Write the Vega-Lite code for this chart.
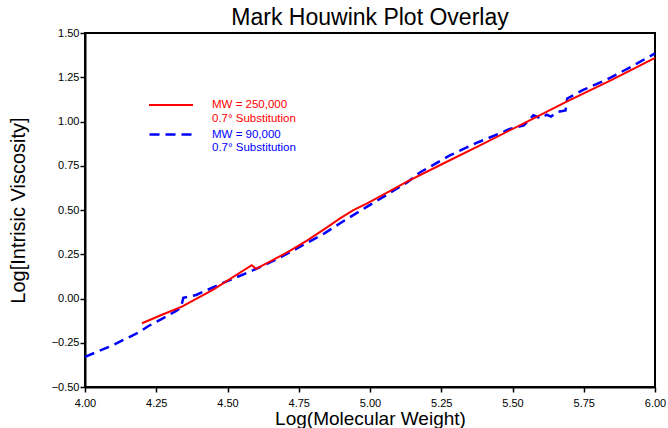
{
  "$schema": "https://vega.github.io/schema/vega-lite/v6.json",
  "autosize": {"type": "none"},
  "width": 570,
  "height": 354,
  "padding": {"left": 85, "top": 33, "right": 13, "bottom": 41},
  "background": "white",
  "config": {
    "font": "Liberation Sans",
    "view": {"stroke": "black", "strokeWidth": 2},
    "axis": {"grid": false, "domainColor": "black", "domainWidth": 2, "tickColor": "black", "tickWidth": 1.5, "tickSize": 5, "labelColor": "black", "labelFontSize": 11, "titleColor": "black", "titleFontSize": 19, "titleFontWeight": "normal", "labelFont": "Liberation Sans", "titleFont": "Liberation Sans"},
    "legend": {"labelFont": "Liberation Sans"}
  },
  "title": {"text": "Mark Houwink Plot Overlay", "fontSize": 23, "fontWeight": "normal", "font": "Liberation Sans", "color": "black", "anchor": "middle", "offset": -3},
  "datasets": {
    "curves": [
      {"series": "MW = 90,000", "logmw": 4.00, "logiv": -0.33},
      {"series": "MW = 90,000", "logmw": 4.10, "logiv": -0.262},
      {"series": "MW = 90,000", "logmw": 4.19, "logiv": -0.19},
      {"series": "MW = 90,000", "logmw": 4.22, "logiv": -0.158},
      {"series": "MW = 90,000", "logmw": 4.27, "logiv": -0.115},
      {"series": "MW = 90,000", "logmw": 4.32, "logiv": -0.07},
      {"series": "MW = 90,000", "logmw": 4.337, "logiv": -0.05},
      {"series": "MW = 90,000", "logmw": 4.345, "logiv": 0.004},
      {"series": "MW = 90,000", "logmw": 4.39, "logiv": 0.02},
      {"series": "MW = 90,000", "logmw": 4.48, "logiv": 0.085},
      {"series": "MW = 90,000", "logmw": 4.59, "logiv": 0.16},
      {"series": "MW = 90,000", "logmw": 4.66, "logiv": 0.212},
      {"series": "MW = 90,000", "logmw": 4.72, "logiv": 0.262},
      {"series": "MW = 90,000", "logmw": 4.78, "logiv": 0.315},
      {"series": "MW = 90,000", "logmw": 4.84, "logiv": 0.368},
      {"series": "MW = 90,000", "logmw": 4.895, "logiv": 0.425},
      {"series": "MW = 90,000", "logmw": 4.99, "logiv": 0.519},
      {"series": "MW = 90,000", "logmw": 5.13, "logiv": 0.655},
      {"series": "MW = 90,000", "logmw": 5.175, "logiv": 0.712},
      {"series": "MW = 90,000", "logmw": 5.28, "logiv": 0.808},
      {"series": "MW = 90,000", "logmw": 5.374, "logiv": 0.879},
      {"series": "MW = 90,000", "logmw": 5.456, "logiv": 0.933},
      {"series": "MW = 90,000", "logmw": 5.49, "logiv": 0.958},
      {"series": "MW = 90,000", "logmw": 5.54, "logiv": 0.978},
      {"series": "MW = 90,000", "logmw": 5.573, "logiv": 1.035},
      {"series": "MW = 90,000", "logmw": 5.60, "logiv": 1.018},
      {"series": "MW = 90,000", "logmw": 5.62, "logiv": 1.038},
      {"series": "MW = 90,000", "logmw": 5.635, "logiv": 1.028},
      {"series": "MW = 90,000", "logmw": 5.66, "logiv": 1.055},
      {"series": "MW = 90,000", "logmw": 5.686, "logiv": 1.062},
      {"series": "MW = 90,000", "logmw": 5.692, "logiv": 1.13},
      {"series": "MW = 90,000", "logmw": 5.75, "logiv": 1.18},
      {"series": "MW = 90,000", "logmw": 5.83, "logiv": 1.236},
      {"series": "MW = 90,000", "logmw": 5.92, "logiv": 1.312},
      {"series": "MW = 90,000", "logmw": 6.00, "logiv": 1.385},
      {"series": "MW = 250,000", "logmw": 4.20, "logiv": -0.14},
      {"series": "MW = 250,000", "logmw": 4.27, "logiv": -0.092},
      {"series": "MW = 250,000", "logmw": 4.34, "logiv": -0.046},
      {"series": "MW = 250,000", "logmw": 4.45, "logiv": 0.05},
      {"series": "MW = 250,000", "logmw": 4.585, "logiv": 0.188},
      {"series": "MW = 250,000", "logmw": 4.60, "logiv": 0.168},
      {"series": "MW = 250,000", "logmw": 4.66, "logiv": 0.218},
      {"series": "MW = 250,000", "logmw": 4.72, "logiv": 0.27},
      {"series": "MW = 250,000", "logmw": 4.78, "logiv": 0.328},
      {"series": "MW = 250,000", "logmw": 4.84, "logiv": 0.392},
      {"series": "MW = 250,000", "logmw": 4.895, "logiv": 0.453},
      {"series": "MW = 250,000", "logmw": 4.94, "logiv": 0.498},
      {"series": "MW = 250,000", "logmw": 4.99, "logiv": 0.538},
      {"series": "MW = 250,000", "logmw": 5.05, "logiv": 0.59},
      {"series": "MW = 250,000", "logmw": 5.13, "logiv": 0.66},
      {"series": "MW = 250,000", "logmw": 5.25, "logiv": 0.757},
      {"series": "MW = 250,000", "logmw": 5.40, "logiv": 0.877},
      {"series": "MW = 250,000", "logmw": 5.55, "logiv": 0.998},
      {"series": "MW = 250,000", "logmw": 5.69, "logiv": 1.112},
      {"series": "MW = 250,000", "logmw": 5.85, "logiv": 1.237},
      {"series": "MW = 250,000", "logmw": 6.00, "logiv": 1.36}
    ]
  },
  "data": {"name": "curves"},
  "encoding": {
    "x": {"field": "logmw", "type": "quantitative", "scale": {"domain": [4, 6], "nice": false, "zero": false},
      "axis": {"title": "Log(Molecular Weight)", "values": [4, 4.25, 4.5, 4.75, 5, 5.25, 5.5, 5.75, 6], "format": ".2f", "labelPadding": 5, "titlePadding": 1, "labelFlush": false, "labelOverlap": false}},
    "y": {"field": "logiv", "type": "quantitative", "scale": {"domain": [-0.5, 1.5], "nice": false, "zero": false},
      "axis": {"title": "Log[Intrisic Viscosity]", "titleFontSize": 20, "values": [-0.5, -0.25, 0, 0.25, 0.5, 0.75, 1, 1.25, 1.5], "format": ".2f", "labelPadding": 1, "titlePadding": 23, "labelFlush": false, "labelOverlap": false}}
  },
  "layer": [
    {
      "transform": [{"filter": "datum.series === 'MW = 90,000'"}],
      "mark": {"type": "line", "strokeWidth": 2.5, "strokeDash": [10, 6]},
      "encoding": {
        "color": {"field": "series", "type": "nominal", "scale": {"domain": ["MW = 90,000"], "range": ["#0000ff"]},
          "legend": {"title": null, "orient": "none", "legendX": 63, "legendY": 78, "padding": 0, "symbolType": "stroke", "symbolSize": 1936, "symbolStrokeWidth": 2.5, "symbolDash": [10, 6], "labelColor": "#0000ff", "labelFontSize": 11.5, "labelOffset": 17, "labelExpr": "['MW = 90,000', '0.7° Substitution']"}}
      }
    },
    {
      "transform": [{"filter": "datum.series === 'MW = 250,000'"}],
      "mark": {"type": "line", "strokeWidth": 2},
      "encoding": {
        "color": {"field": "series", "type": "nominal", "scale": {"domain": ["MW = 250,000"], "range": ["#ff0000"]},
          "legend": {"title": null, "orient": "none", "legendX": 63, "legendY": 49, "padding": 0, "symbolType": "stroke", "symbolSize": 1936, "symbolStrokeWidth": 2, "labelColor": "#ff0000", "labelFontSize": 11.5, "labelOffset": 18, "labelExpr": "['MW = 250,000', '0.7° Substitution']"}}
      }
    }
  ],
  "resolve": {"scale": {"color": "independent"}, "legend": {"color": "independent"}}
}
